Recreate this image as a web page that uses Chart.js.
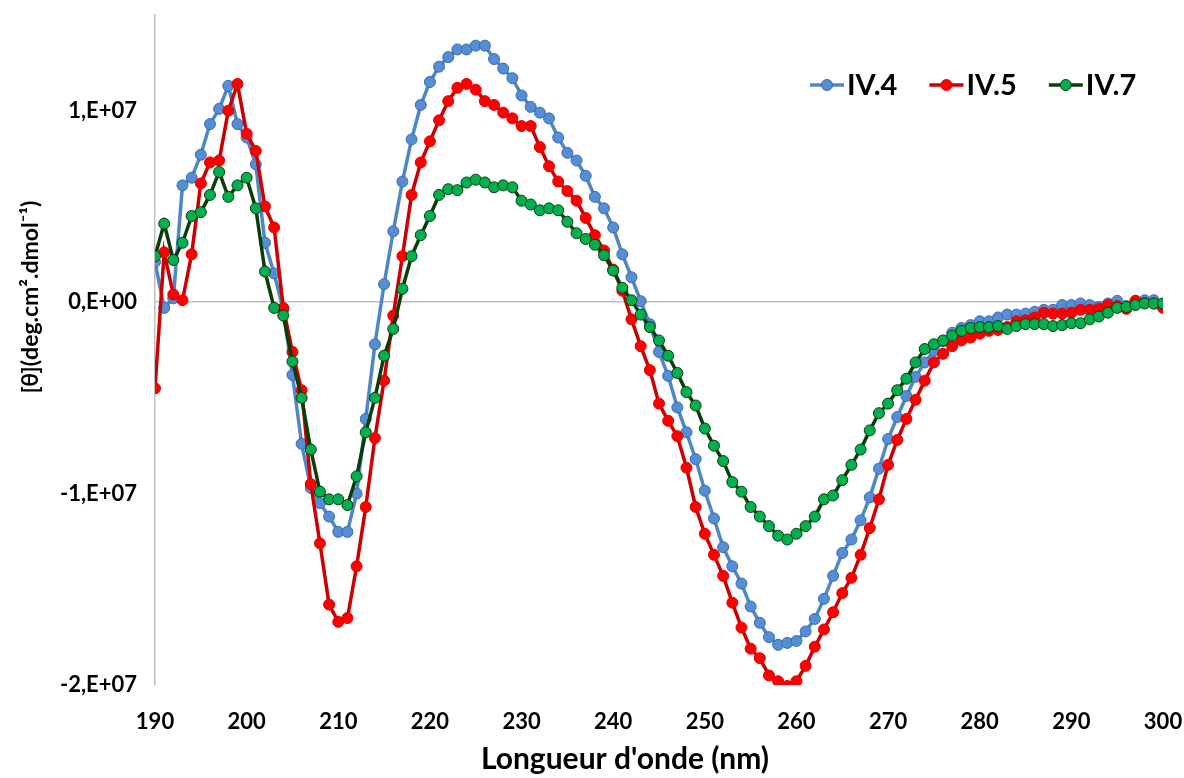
<!DOCTYPE html>
<html>
<head>
<meta charset="utf-8">
<script src="https://cdn.jsdelivr.net/npm/chart.js@4.4.1/dist/chart.umd.min.js"></script>
<style>
  body { margin: 0; background: #fff; }
  #wrap { width: 1184px; height: 778px; }
</style>
</head>
<body>
<div id="wrap"><canvas id="cdChart" width="1184" height="778"></canvas></div>
<script>
// wavelengths (nm)
const wavelengths = [
  190,191,192,193,194,195,196,197,198,199,200,201,202,203,204,205,206,207,208,209,
  210,211,212,213,214,215,216,217,218,219,220,221,222,223,224,225,226,227,228,229,
  230,231,232,233,234,235,236,237,238,239,240,241,242,243,244,245,246,247,248,249,
  250,251,252,253,254,255,256,257,258,259,260,261,262,263,264,265,266,267,268,269,
  270,271,272,273,274,275,276,277,278,279,280,281,282,283,284,285,286,287,288,289,
  290,291,292,293,294,295,296,297,298,299,300
];

// ellipticity values, in units of 1E+07 deg.cm2.dmol-1
const iv4 = [
  0.21,-0.03,0.02,0.61,0.65,0.77,0.93,1.01,1.13,0.93,0.86,0.72,0.31,0.15,-0.04,-0.38,-0.74,-0.97,-1.05,-1.12,
  -1.20,-1.20,-1.00,-0.61,-0.22,0.094,0.37,0.63,0.85,1.03,1.15,1.23,1.28,1.32,1.32,1.34,1.34,1.27,1.22,1.17,
  1.08,1.02,0.99,0.96,0.86,0.78,0.74,0.66,0.55,0.49,0.39,0.25,0.13,0.005,-0.115,-0.26,-0.385,-0.55,-0.68,-0.82,
  -0.985,-1.13,-1.28,-1.38,-1.47,-1.59,-1.675,-1.75,-1.79,-1.78,-1.77,-1.72,-1.655,-1.55,-1.43,-1.31,-1.24,-1.14,-1.02,-0.87,
  -0.715,-0.60,-0.49,-0.39,-0.315,-0.255,-0.205,-0.16,-0.135,-0.12,-0.10,-0.10,-0.08,-0.065,-0.065,-0.06,-0.05,-0.04,-0.04,-0.015,
  -0.015,-0.007,-0.015,-0.025,-0.007,0.007,-0.02,0.007,0.01,0.01,-0.01
];
const iv5 = [
  -0.45,0.26,0.04,0.01,0.25,0.62,0.73,0.74,1.00,1.14,0.88,0.79,0.50,0.39,-0.03,-0.26,-0.46,-0.95,-1.26,-1.58,
  -1.67,-1.65,-1.38,-1.07,-0.71,-0.41,-0.07,0.24,0.56,0.73,0.84,0.95,1.05,1.12,1.14,1.11,1.05,1.03,0.99,0.96,
  0.92,0.92,0.81,0.71,0.63,0.58,0.53,0.44,0.35,0.27,0.17,0.06,-0.09,-0.23,-0.355,-0.53,-0.62,-0.70,-0.865,-1.07,
  -1.21,-1.32,-1.43,-1.57,-1.70,-1.81,-1.86,-1.95,-1.98,-2.005,-1.98,-1.90,-1.80,-1.71,-1.62,-1.52,-1.44,-1.32,-1.18,-1.03,
  -0.85,-0.72,-0.61,-0.51,-0.41,-0.315,-0.27,-0.23,-0.20,-0.185,-0.165,-0.15,-0.145,-0.13,-0.10,-0.095,-0.08,-0.055,-0.06,-0.06,
  -0.055,-0.04,-0.04,-0.035,-0.015,-0.02,-0.035,0.007,-0.005,-0.007,-0.03
];
const iv7 = [
  0.24,0.41,0.22,0.31,0.45,0.47,0.56,0.68,0.55,0.61,0.65,0.49,0.16,-0.03,-0.07,-0.31,-0.50,-0.77,-0.99,-1.03,
  -1.03,-1.06,-0.91,-0.68,-0.50,-0.28,-0.14,0.07,0.24,0.35,0.45,0.56,0.59,0.585,0.625,0.64,0.625,0.60,0.61,0.60,
  0.53,0.51,0.48,0.49,0.48,0.42,0.36,0.33,0.30,0.245,0.165,0.075,0.01,-0.065,-0.13,-0.20,-0.28,-0.37,-0.47,-0.54,
  -0.66,-0.75,-0.83,-0.94,-0.99,-1.07,-1.12,-1.17,-1.22,-1.24,-1.21,-1.17,-1.12,-1.03,-1.01,-0.93,-0.85,-0.77,-0.67,-0.58,
  -0.53,-0.46,-0.40,-0.315,-0.245,-0.22,-0.20,-0.175,-0.15,-0.135,-0.13,-0.13,-0.125,-0.14,-0.125,-0.115,-0.115,-0.115,-0.125,-0.12,
  -0.11,-0.11,-0.09,-0.075,-0.055,-0.03,-0.025,-0.015,-0.007,-0.007,-0.007
];

const seriesNames = ['IV.4', 'IV.5', 'IV.7'];
const yTickValues = [-2e7, -1e7, 0, 1e7];
const yTickLabels = ['-2,E+07', '-1,E+07', '0,E+00', '1,E+07'];
const xTitle = "Longueur d'onde (nm)";
const yTitle = '[θ](deg.cm².dmol⁻¹)';

const UNIT = 1e7;
function points(vals) {
  return vals.map((v, i) => ({ x: wavelengths[i], y: v * UNIT }));
}

function makeSet(label, vals, line, fill, edge, order) {
  return {
    label: label,
    data: points(vals),
    borderColor: line,
    borderWidth: 3.5,
    pointRadius: 5.5,
    pointBackgroundColor: fill,
    pointBorderColor: edge,
    pointBorderWidth: 1,
    tension: 0,
    order: order
  };
}

// titles and legend drawn the way the spreadsheet placed them
const overlay = {
  id: 'overlay',
  afterDraw(chart) {
    const ctx = chart.ctx;
    ctx.save();
    ctx.fillStyle = '#000';
    ctx.textAlign = 'center';
    ctx.textBaseline = 'middle';
    ctx.font = 'bold 30px Lato';
    ctx.fillText(xTitle, 625, 759);
    ctx.save();
    ctx.translate(31, 297);
    ctx.rotate(-Math.PI / 2);
    ctx.font = 'bold 23px Lato';
    ctx.fillText(yTitle, 0, 0);
    ctx.restore();

    // legend
    let x = 810;
    const y = 85;
    ctx.font = 'bold 29px Lato';
    ctx.textAlign = 'left';
    chart.data.datasets.forEach(ds => {
      ctx.strokeStyle = ds.borderColor;
      ctx.lineWidth = 3.5;
      ctx.beginPath();
      ctx.moveTo(x, y);
      ctx.lineTo(x + 34, y);
      ctx.stroke();
      ctx.beginPath();
      ctx.arc(x + 17, y, 5.5, 0, Math.PI * 2);
      ctx.fillStyle = ds.pointBackgroundColor;
      ctx.fill();
      ctx.lineWidth = 1;
      ctx.strokeStyle = ds.pointBorderColor;
      ctx.stroke();
      ctx.fillStyle = '#000';
      ctx.fillText(ds.label, x + 37, y + 1);
      x += 37 + ctx.measureText(ds.label).width + 32;
    });
    ctx.restore();
  }
};

const ctx = document.getElementById('cdChart').getContext('2d');
const myChart = new Chart(ctx, {
  type: 'line',
  data: {
    datasets: [
      makeSet(seriesNames[0], iv4, '#4F86C6', '#558ED5', '#3A6BAE', 3),
      makeSet(seriesNames[1], iv5, '#CC0000', '#FF0000', '#E00000', 2),
      makeSet(seriesNames[2], iv7, '#0A3D0A', '#00B050', '#0A3D0A', 1)
    ]
  },
  options: {
    responsive: false,
    animation: false,
    layout: { padding: { top: 15, right: 21, left: 0, bottom: 0 } },
    plugins: {
      legend: { display: false },
      tooltip: { enabled: false }
    },
    scales: {
      x: {
        type: 'linear',
        min: 190,
        max: 300,
        ticks: {
          stepSize: 10,
          color: '#000',
          padding: 16,
          font: { family: 'Lato', weight: 'bold', size: 22 }
        },
        grid: { display: false },
        border: { display: false },
        afterFit: s => { s.height = 93; s.paddingLeft = 0; s.paddingRight = 0; }
      },
      y: {
        min: -2e7,
        max: 1.5e7,
        afterBuildTicks: s => { s.ticks = yTickValues.map(v => ({ value: v })); },
        ticks: {
          color: '#000',
          padding: 18,
          font: { family: 'Lato', weight: 'bold', size: 22 },
          callback: v => yTickLabels[yTickValues.indexOf(v)]
        },
        grid: {
          drawTicks: false,
          lineWidth: 1.5,
          color: c => (c.tick && c.tick.value === 0) ? '#BFBFBF' : 'rgba(0,0,0,0)'
        },
        border: { color: '#BFBFBF', width: 1.5 },
        afterFit: s => { s.width = 155; s.paddingTop = 0; s.paddingBottom = 0; }
      }
    }
  },
  plugins: [overlay]
});
</script>
</body>
</html>
